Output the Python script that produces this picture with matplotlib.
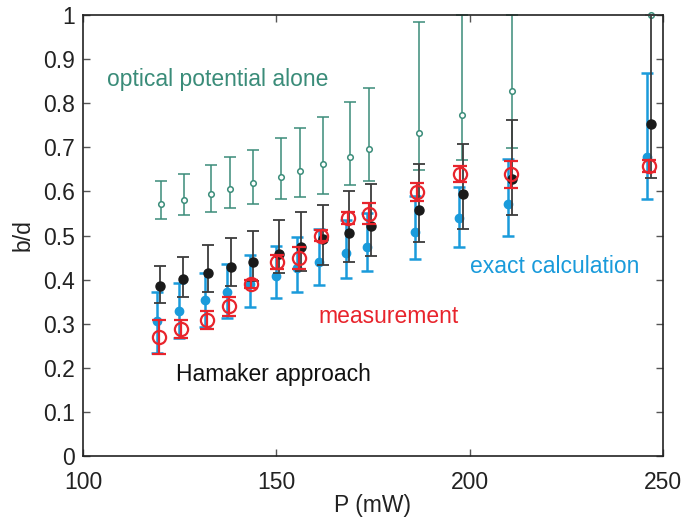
import matplotlib
matplotlib.use("Agg")
import matplotlib.pyplot as plt
import numpy as np

plt.rcParams["font.family"] = ["Liberation Sans", "DejaVu Sans"]

# optical potential alone
p_green = [120.1, 126.1, 133.1, 138.1, 144.1, 151.1, 156.1, 162.1, 169.0, 174.0, 187.0, 198.0, 211.0, 246.8]
y_green = [0.571, 0.580, 0.595, 0.606, 0.618, 0.633, 0.647, 0.661, 0.679, 0.695, 0.732, 0.773, 0.827, 1.0]
lo_green = [0.537, 0.546, 0.554, 0.563, 0.572, 0.583, 0.588, 0.595, 0.614, 0.624, 0.649, 0.671, 0.699, 1.0]
hi_green = [0.624, 0.639, 0.660, 0.677, 0.694, 0.720, 0.744, 0.768, 0.802, 0.835, 0.985, 1.0, 1.0, 1.0]

# Hamaker approach
p_black = [120.0, 125.8, 132.4, 138.2, 143.9, 150.7, 156.4, 162.0, 168.8, 174.5, 186.9, 198.2, 211.0, 246.8]
y_black = [0.386, 0.401, 0.416, 0.428, 0.441, 0.459, 0.474, 0.491, 0.506, 0.521, 0.558, 0.593, 0.628, 0.752]
lo_black = [0.346, 0.361, 0.373, 0.386, 0.397, 0.415, 0.420, 0.432, 0.441, 0.453, 0.485, 0.515, 0.547, 0.630]
hi_black = [0.431, 0.452, 0.478, 0.495, 0.511, 0.536, 0.553, 0.570, 0.600, 0.617, 0.662, 0.707, 0.763, 1.0]

# exact calculation
p_blue = [119.2, 124.9, 131.6, 137.3, 143.2, 149.8, 155.3, 161.1, 167.9, 173.5, 185.9, 197.3, 209.8, 245.9]
y_blue = [0.306, 0.329, 0.354, 0.372, 0.390, 0.409, 0.426, 0.441, 0.460, 0.475, 0.509, 0.539, 0.572, 0.678]
lo_blue = [0.234, 0.268, 0.292, 0.312, 0.339, 0.358, 0.373, 0.388, 0.404, 0.419, 0.447, 0.474, 0.500, 0.582]
hi_blue = [0.371, 0.393, 0.416, 0.435, 0.455, 0.477, 0.496, 0.514, 0.535, 0.550, 0.590, 0.610, 0.673, 0.869]

# measurement
p_red = [119.7, 125.3, 132.0, 137.8, 143.4, 150.2, 155.9, 161.5, 168.5, 174.0, 186.5, 197.6, 210.6, 246.4]
y_red = [0.269, 0.289, 0.308, 0.340, 0.389, 0.440, 0.450, 0.500, 0.540, 0.549, 0.599, 0.639, 0.639, 0.658]
lo_red = [0.231, 0.267, 0.289, 0.317, 0.382, 0.425, 0.425, 0.488, 0.527, 0.525, 0.579, 0.621, 0.608, 0.645]
hi_red = [0.308, 0.308, 0.329, 0.360, 0.398, 0.455, 0.475, 0.512, 0.553, 0.573, 0.620, 0.658, 0.669, 0.672]

GREEN = "#3a8c79"
BLUE = "#1a9bdb"
RED = "#e8242c"
BLACK = "#1a1a1a"


def yerr(y, lo, hi):
    y = np.asarray(y)
    return [y - np.asarray(lo), np.asarray(hi) - y]


fig = plt.figure(figsize=(6.87, 5.22), dpi=100)
ax = fig.add_axes([0.1208, 0.1264, 0.8442, 0.8449])

ax.errorbar(p_green, y_green, yerr=yerr(y_green, lo_green, hi_green), fmt="o", ms=4,
            mfc="white", mec=GREEN, mew=1.1, color=GREEN, elinewidth=1.1, capsize=4,
            capthick=1.3, zorder=2, clip_on=False)
ax.errorbar(p_blue, y_blue, yerr=yerr(y_blue, lo_blue, hi_blue), fmt="o", ms=6,
            color=BLUE, elinewidth=1.8, capsize=4.5, capthick=1.8, zorder=3)
ax.errorbar(p_black, y_black, yerr=yerr(y_black, lo_black, hi_black), fmt="o", ms=6.5,
            color=BLACK, ecolor="#3c3c3c", elinewidth=1.3, capsize=4.5, capthick=1.3,
            zorder=4, clip_on=False)
ax.errorbar(p_red, y_red, yerr=yerr(y_red, lo_red, hi_red), fmt="o", ms=9.5,
            mfc="none", mec=RED, mew=1.6, color=RED, elinewidth=1.6, capsize=5,
            capthick=1.8, zorder=5)

fs = 16.5
ax.text(106.2, 0.853, "optical potential alone", color=GREEN, fontsize=fs, va="center")
ax.text(243.8, 0.429, "exact calculation", color=BLUE, fontsize=fs, va="center", ha="right")
ax.text(161.0, 0.317, "measurement", color=RED, fontsize=fs, va="center")
ax.text(124.0, 0.184, "Hamaker approach", color="#111111", fontsize=fs, va="center")

ax.set_xlim(100, 250)
ax.set_ylim(0, 1)
ax.set_xticks([100, 150, 200, 250])
ax.set_yticks(np.arange(0, 1.01, 0.1))
ax.set_yticklabels(["0", "0.1", "0.2", "0.3", "0.4", "0.5", "0.6", "0.7", "0.8", "0.9", "1"])
ax.tick_params(direction="in", length=5, width=1, color="#555555", labelsize=fs,
               top=True, right=True, labelcolor="#222222")
ax.tick_params(axis="x", pad=11)
ax.tick_params(axis="y", pad=6)
for s in ax.spines.values():
    s.set_linewidth(1.2)
    s.set_color("#222222")

ax.set_xlabel("P (mW)", fontsize=fs, color="#222222", labelpad=0)
ax.set_ylabel("b/d", fontsize=fs, color="#222222", labelpad=6)

fig.savefig("out.png", dpi=100)
